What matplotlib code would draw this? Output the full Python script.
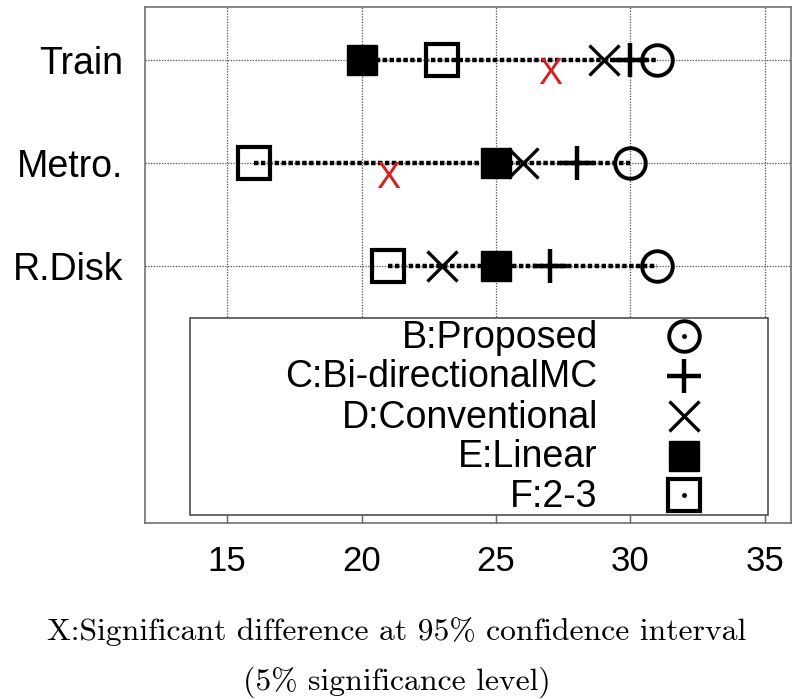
import matplotlib
matplotlib.use("Agg")
import matplotlib.pyplot as plt
from matplotlib.patches import Rectangle

plt.rcParams['font.family'] = ['Liberation Sans', 'DejaVu Sans']

# rows of the chart, top to bottom
rows = ["Train", "Metro.", "R.Disk"]
row_pos = [3, 2, 1]

# scores
proposed = [31, 30, 31]        # B
bidir_mc = [30, 28, 27]        # C
conventional = [29, 26, 23]    # D
linear = [20, 25, 25]          # E
two_three = [23, 16, 21]       # F
signif_x = [27, 21, None]      # red X = significant difference

labels = ["B:Proposed", "C:Bi-directionalMC", "D:Conventional", "E:Linear", "F:2-3"]
series = [proposed, bidir_mc, conventional, linear, two_three]
styles = [
  dict(marker='o', ms=22, mew=2.8, mfc='none', mec='k'),
  dict(marker='+', ms=24, mew=3.2, mec='k'),
  dict(marker='x', ms=21, mew=2.4, mec='k'),
  dict(marker='s', ms=22, mew=1, mfc='k', mec='k'),
  dict(marker='s', ms=22.5, mew=3, mfc='none', mec='k'),
]

xticks = [15, 20, 25, 30, 35]

fig = plt.figure(figsize=(7.93, 6.99), dpi=100)
ax = fig.add_axes([0.1829, 0.2518, 0.8146, 0.7382])

# thick dotted line from the lowest to the highest score of each row
for i in range(len(rows)):
  vals = [s[i] for s in series]
  ax.plot([min(vals), max(vals)], [row_pos[i], row_pos[i]], color='k', lw=3.2,
          ls=(0, (1, 0.55)), dash_capstyle='butt', zorder=3)

for vals, st in zip(series, styles):
  ax.plot(vals, row_pos, ls='none', zorder=4, **st)

for i in range(len(rows)):
  if signif_x[i] is not None:
    ax.annotate("X", (signif_x[i], row_pos[i]), xytext=(0, -11),
                textcoords='offset points', ha='center', va='center',
                color='#d81e1e', fontsize=26, zorder=5)

ax.set_xlim(11.95, 35.97)
ax.set_ylim(-1.49, 3.51)
ax.set_xticks(xticks)
ax.set_yticks(row_pos)
ax.set_yticklabels(rows)
ax.grid(True, ls=(0, (1, 1.2)), color='0.3', lw=0.9)
ax.tick_params(axis='x', direction='in', length=6, width=1, color='0.4',
               labelsize=25, pad=16)
ax.tick_params(axis='y', length=0, labelsize=27, pad=16)
for sp in ax.spines.values():
  sp.set_color('0.4')
  sp.set_linewidth(1.1)

# legend box drawn by hand: text right aligned, symbol on the right
ax.add_patch(Rectangle((0.0697, 0.0155), 0.8943, 0.3815, transform=ax.transAxes,
                       fc='white', ec='0.25', lw=1.1, zorder=6))
text_y = [0.3386, 0.263, 0.1835, 0.108, 0.0316]
mark_y = [0.362, 0.285, 0.208, 0.129, 0.054]
for lab, st, ty, my in zip(labels, styles, text_y, mark_y):
  ax.text(0.701, ty, lab, transform=ax.transAxes, ha='right', va='baseline',
          fontsize=27, zorder=7)
  ax.plot([0.834], [my], transform=ax.transAxes, ls='none', zorder=7, clip_on=False, **st)
  ax.plot([0.834], [my], transform=ax.transAxes, ls='none', marker='o', ms=2.5,
          mfc='k', mec='k', zorder=7, clip_on=False)

fig.text(0.5, 0.0844, "X:Significant difference at 95% confidence interval",
         ha='center', va='baseline', family='cmr10', fontsize=22.8)
fig.text(0.5, 0.0129, "(5% significance level)",
         ha='center', va='baseline', family='cmr10', fontsize=22.8)

fig.savefig("out.png", dpi=100)
